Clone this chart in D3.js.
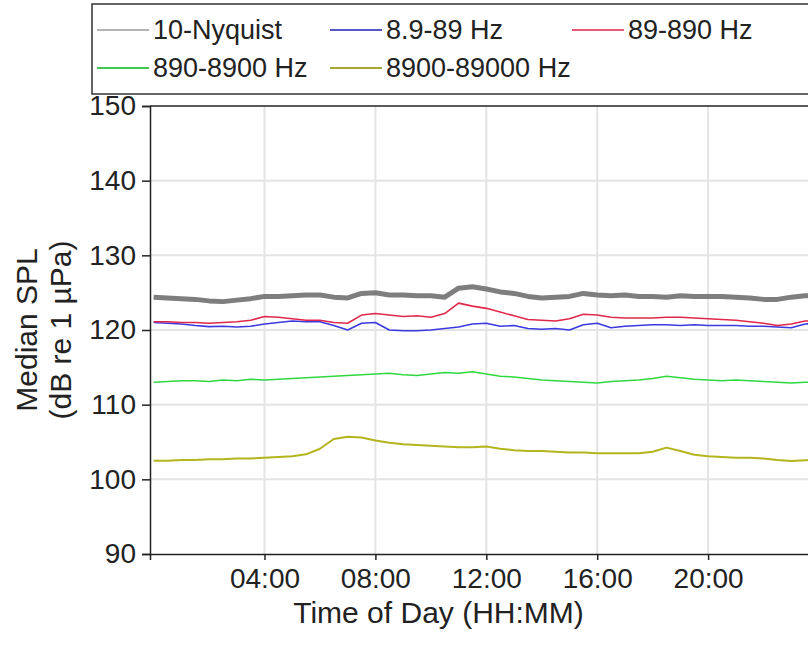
<!DOCTYPE html>
<html>
<head>
<meta charset="utf-8">
<script src="https://cdn.jsdelivr.net/npm/d3@7"></script>
<style>
  body { margin: 0; background: #fff; }
  svg { display: block; font-family: 'Liberation Sans', Arial, sans-serif; }
</style>
</head>
<body>
<svg id="chart" width="808" height="645"></svg>
<script>
// hours of day for each sample
const hours = [0, 0.5, 1, 1.5, 2, 2.5, 3, 3.5, 4, 4.5, 5, 5.5, 6, 6.5, 7, 7.5, 8, 8.5, 9, 9.5,
  10, 10.5, 11, 11.5, 12, 12.5, 13, 13.5, 14, 14.5, 15, 15.5, 16, 16.5, 17, 17.5, 18, 18.5, 19, 19.5,
  20, 20.5, 21, 21.5, 22, 22.5, 23, 23.5, 24]

const bandNames = ['10-Nyquist', '8.9-89 Hz', '89-890 Hz', '890-8900 Hz', '8900-89000 Hz']

const splBroad = [124.4, 124.3, 124.2, 124.1, 123.9, 123.8, 124.0, 124.2, 124.5, 124.5, 124.6, 124.7, 124.7, 124.4, 124.3, 124.9, 125.0, 124.7, 124.7, 124.6,
  124.6, 124.4, 125.6, 125.8, 125.5, 125.1, 124.9, 124.5, 124.3, 124.4, 124.5, 124.9, 124.7, 124.6, 124.7, 124.5, 124.5, 124.4, 124.6, 124.5,
  124.5, 124.5, 124.4, 124.3, 124.1, 124.1, 124.4, 124.6, 124.6]
const splLow = [121.0, 120.9, 120.8, 120.6, 120.45, 120.5, 120.4, 120.5, 120.8, 121.0, 121.2, 121.1, 121.1, 120.6, 120.0, 120.9, 121.0, 120.0, 119.9, 119.9,
  120.0, 120.2, 120.4, 120.8, 120.9, 120.5, 120.6, 120.2, 120.1, 120.2, 120.0, 120.7, 120.9, 120.3, 120.5, 120.6, 120.7, 120.7, 120.6, 120.7,
  120.6, 120.6, 120.6, 120.5, 120.5, 120.4, 120.3, 120.8, 120.9]
const splMid = [121.1, 121.1, 121.0, 121.0, 120.9, 121.0, 121.1, 121.3, 121.8, 121.7, 121.5, 121.3, 121.3, 121.0, 120.9, 122.0, 122.2, 122.0, 121.8, 121.9,
  121.7, 122.2, 123.6, 123.2, 122.9, 122.4, 121.9, 121.4, 121.3, 121.2, 121.5, 122.1, 122.0, 121.7, 121.6, 121.6, 121.6, 121.7, 121.7, 121.6,
  121.5, 121.4, 121.3, 121.1, 120.9, 120.6, 120.8, 121.2, 121.2]
const splHigh = [113.0, 113.1, 113.2, 113.2, 113.1, 113.3, 113.2, 113.4, 113.3, 113.4, 113.5, 113.6, 113.7, 113.8, 113.9, 114.0, 114.1, 114.2, 114.0, 113.9,
  114.1, 114.3, 114.2, 114.4, 114.1, 113.8, 113.7, 113.5, 113.3, 113.2, 113.1, 113.0, 112.9, 113.1, 113.2, 113.3, 113.5, 113.8, 113.6, 113.4,
  113.3, 113.2, 113.3, 113.2, 113.1, 113.0, 112.9, 113.0, 113.0]
const splUltra = [102.5, 102.5, 102.6, 102.6, 102.7, 102.7, 102.8, 102.8, 102.9, 103.0, 103.1, 103.35, 104.1, 105.4, 105.7, 105.6, 105.2, 104.9, 104.7, 104.6,
  104.5, 104.4, 104.3, 104.3, 104.4, 104.1, 103.9, 103.8, 103.8, 103.7, 103.6, 103.6, 103.5, 103.5, 103.5, 103.5, 103.7, 104.25, 103.8, 103.3,
  103.1, 103.0, 102.9, 102.9, 102.8, 102.6, 102.45, 102.55, 102.55]

const yTicks = [90, 100, 110, 120, 130, 140, 150]
const xTicks = [4, 8, 12, 16, 20]
const xTickLabels = ['04:00', '08:00', '12:00', '16:00', '20:00']

const series = [
  { name: bandNames[0], values: splBroad, color: '#707070', width: 5, legend: '#b4b4b4' },
  { name: bandNames[1], values: splLow, color: '#3a3ae0', width: 1.6, legend: '#5858c8' },
  { name: bandNames[2], values: splMid, color: '#e0284a', width: 1.6, legend: '#ec5a78' },
  { name: bandNames[3], values: splHigh, color: '#30d840', width: 1.6, legend: '#40c850' },
  { name: bandNames[4], values: splUltra, color: '#b4b41e', width: 2, legend: '#a8a830' }
]

const svg = d3.select('#chart')
const plotLeft = 150
const plotTop = 106
const plotBottom = 554
const plotRight = 819

const x = d3.scaleLinear().domain([-0.13, 24]).range([plotLeft, plotRight])
const y = d3.scaleLinear().domain([90, 150]).range([plotBottom, plotTop])

svg.append('defs').append('clipPath').attr('id', 'plot')
  .append('rect')
  .attr('x', plotLeft).attr('y', plotTop)
  .attr('width', plotRight - plotLeft).attr('height', plotBottom - plotTop)

// legend (drawn first so the axis labels sit on top of it)
const legend = svg.append('g')
legend.append('rect')
  .attr('x', 92).attr('y', 4)
  .attr('width', 740).attr('height', 90)
  .attr('fill', '#fff')
  .attr('stroke', '#333').attr('stroke-width', 1.5)

const legendPos = [[97, 30], [330, 30], [572, 30], [97, 68], [330, 68]]
series.forEach((s, i) => {
  const [lx, ly] = legendPos[i]
  legend.append('line')
    .attr('x1', lx).attr('x2', lx + 52)
    .attr('y1', ly).attr('y2', ly)
    .attr('stroke', s.legend).attr('stroke-width', 2)
  legend.append('text')
    .attr('x', lx + 56).attr('y', ly)
    .attr('dy', '0.35em')
    .attr('fill', '#222')
    .style('font-size', '27px')
    .text(s.name)
})

// grid
svg.append('g')
  .selectAll('line')
  .data(xTicks)
  .join('line')
  .attr('x1', d => x(d)).attr('x2', d => x(d))
  .attr('y1', plotTop).attr('y2', plotBottom)
  .attr('stroke', '#e4e4e4').attr('stroke-width', 2)

svg.append('g')
  .selectAll('line')
  .data(yTicks.slice(1, -1))
  .join('line')
  .attr('x1', plotLeft).attr('x2', plotRight)
  .attr('y1', d => y(d)).attr('y2', d => y(d))
  .attr('stroke', '#e4e4e4').attr('stroke-width', 2)

// lines
const line = d3.line()
  .x((_, i) => x(hours[i]))
  .y(d => y(d))

const plotG = svg.append('g').attr('clip-path', 'url(#plot)')
series.forEach(s => {
  plotG.append('path')
    .attr('d', line(s.values))
    .attr('fill', 'none')
    .attr('stroke', s.color)
    .attr('stroke-width', s.width)
    .attr('stroke-linejoin', 'round')
    .attr('opacity', s.width > 3 ? 0.9 : 1)
})

// axes
const yAxis = d3.axisLeft(y).tickValues(yTicks).tickSize(8).tickPadding(6)
const gy = svg.append('g')
  .attr('transform', `translate(${plotLeft},0)`)
  .call(yAxis)
gy.select('.domain').attr('stroke', '#222').attr('stroke-width', 1.5)
gy.selectAll('.tick line').attr('stroke', '#222').attr('stroke-width', 1.5)
gy.selectAll('.tick text')
  .attr('fill', '#222')
  .style('font-size', '28px')

const xAxis = d3.axisBottom(x).tickValues(xTicks)
  .tickFormat((d, i) => xTickLabels[i])
  .tickSize(6).tickPadding(8)
const gx = svg.append('g')
  .attr('transform', `translate(0,${plotBottom})`)
  .call(xAxis)
gx.select('.domain').attr('stroke', '#222').attr('stroke-width', 1.5)
gx.selectAll('.tick line').attr('stroke', '#222').attr('stroke-width', 1.5)
gx.selectAll('.tick text')
  .attr('fill', '#222')
  .style('font-size', '28px')

// top frame
svg.append('line')
  .attr('x1', plotLeft).attr('x2', plotRight)
  .attr('y1', plotTop).attr('y2', plotTop)
  .attr('stroke', '#222').attr('stroke-width', 1.5)

// axis labels
svg.append('text')
  .attr('x', (plotLeft + plotRight) / 2 - 46)
  .attr('y', 623)
  .attr('text-anchor', 'middle')
  .attr('fill', '#222')
  .style('font-size', '30px')
  .text('Time of Day (HH:MM)')

const yl = svg.append('text')
  .attr('transform', `translate(37,${(plotTop + plotBottom) / 2}) rotate(-90)`)
  .attr('text-anchor', 'middle')
  .attr('fill', '#222')
  .style('font-size', '30px')
yl.append('tspan').attr('x', 0).attr('dy', 0).text('Median SPL')
yl.append('tspan').attr('x', 0).attr('dy', 34).text('(dB re 1 µPa)')
</script>
</body>
</html>
